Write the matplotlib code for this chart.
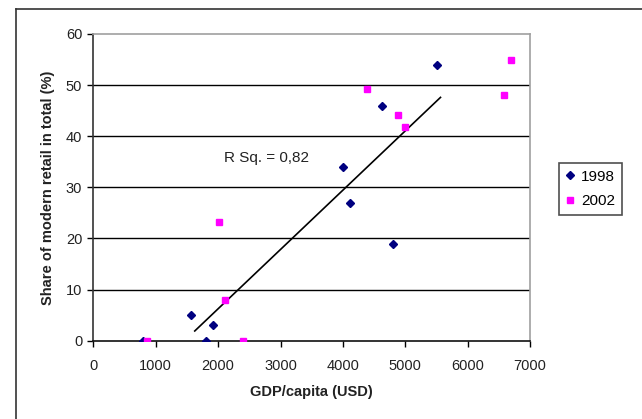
import matplotlib
matplotlib.use("Agg")
import matplotlib.pyplot as plt
from matplotlib.lines import Line2D

plt.rcParams['font.family'] = ['Liberation Sans', 'DejaVu Sans']

# 1998 series
gdp_1998 = [790, 1560, 1810, 1920, 4000, 4110, 4810, 4620, 5510]
share_1998 = [0, 5.1, 0, 3.1, 34.0, 27.0, 18.9, 45.9, 54.0]

# 2002 series
gdp_2002 = [860, 2010, 2110, 2400, 4390, 4890, 5000, 6580, 6690]
share_2002 = [0, 23.2, 8.0, 0, 49.2, 44.1, 41.9, 48.0, 55.0]

# trend line end points
trend_x = [1625, 5565]
trend_y = [1.9, 47.6]

fig = plt.figure(figsize=(6.42, 4.19), dpi=100)
ax = fig.add_axes([93.4 / 642, 1 - 340.7 / 419, (530 - 93.4) / 642, (340.7 - 34) / 419])

for y in range(10, 60, 10):
    ax.axhline(y, color='black', linewidth=1.0, zorder=1)

ax.plot(gdp_1998, share_1998, linestyle='none', marker='D', markersize=4,
        color='#000080', label='1998', zorder=3)
ax.plot(gdp_2002, share_2002, linestyle='none', marker='s', markersize=5,
        color='#FF00FF', label='2002', zorder=3)
ax.plot(trend_x, trend_y, color='black', linewidth=1.2, zorder=2)

ax.text(2090, 35.8, 'R Sq. = 0,82', fontsize=11, va='center', ha='left', color='#222222')

ax.set_xlim(0, 7000)
ax.set_ylim(0, 60)
ax.set_xticks(range(0, 7001, 1000))
ax.set_yticks(range(0, 61, 10))
ax.tick_params(axis='both', direction='out', length=4, labelsize=10.5, width=1,
               labelcolor='#222222')
ax.tick_params(axis='x', pad=9)
ax.tick_params(axis='y', pad=4)

ax.spines['left'].set_color('#333333')
ax.spines['bottom'].set_color('#111111')
ax.spines['top'].set_color('#a0a0a0')
ax.spines['right'].set_color('#a0a0a0')
for s in ax.spines.values():
    s.set_linewidth(1.2)

ax.set_xlabel('GDP/capita (USD)', fontsize=10.5, fontweight='bold', labelpad=9, color='#222222')
ax.set_ylabel('Share of modern retail in total (%)', fontsize=10.5, fontweight='bold',
              labelpad=8, color='#222222')

leg = ax.legend(loc='center left', bbox_to_anchor=(559 / 642, 1 - 189 / 419),
                bbox_transform=fig.transFigure, frameon=True, fancybox=False,
                fontsize=11, handlelength=0.5, handletextpad=0.5, borderpad=0.45,
                labelspacing=0.7, borderaxespad=0, markerscale=0.9)
leg.get_frame().set_edgecolor('#222222')
leg.get_frame().set_linewidth(1.2)

# outer chart frame (cut off at the right and bottom)
fig.add_artist(Line2D([16 / 642, 16 / 642], [0, 1 - 9 / 419], color='#333333', linewidth=1.2))
fig.add_artist(Line2D([16 / 642, 1], [1 - 9 / 419, 1 - 9 / 419], color='#333333', linewidth=1.2))

fig.savefig('out.png', dpi=100)
